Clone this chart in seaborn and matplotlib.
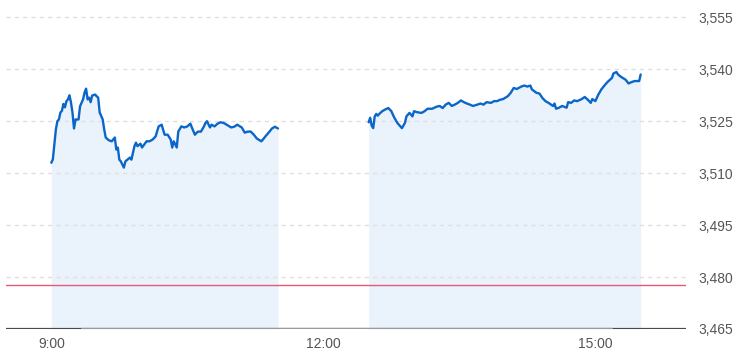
import matplotlib
matplotlib.use("Agg")
import matplotlib.pyplot as plt
import seaborn as sns
import pandas as pd

# Minutes after 9:00 and index values
am_minutes = [0, 1, 3, 4, 5, 6, 7, 8, 9, 10, 11, 12, 13, 14, 15, 16, 18, 19, 21, 22, 23, 24, 25, 26, 27,
              29, 30, 31, 32, 34, 35, 36, 38, 40, 42, 43, 44, 45, 46, 48, 49, 52, 53, 55, 56, 57, 59, 60,
              63, 65, 67, 69, 71, 73, 74, 75, 77, 79, 80, 81, 83, 84, 86, 88, 90, 92, 93, 95, 97, 99, 101,
              102, 103, 105, 106, 108, 110, 112, 114, 116, 119, 121, 123, 126, 128, 130, 132, 134, 136,
              139, 140, 142, 144, 146, 148, 150]
am_values = [3513.0, 3514.0, 3522.6, 3525.0, 3525.5, 3527.5, 3528.0, 3530.0, 3529.0, 3530.8, 3531.3,
             3532.5, 3530.4, 3527.5, 3522.9, 3525.5, 3525.5, 3529.3, 3531.3, 3533.3, 3534.4, 3531.3,
             3531.8, 3530.5, 3532.4, 3532.7, 3532.2, 3531.8, 3527.5, 3525.5, 3522.6, 3520.3, 3519.5,
             3519.2, 3520.3, 3516.8, 3517.4, 3513.9, 3513.4, 3511.6, 3513.4, 3514.5, 3513.9, 3517.8,
             3518.8, 3517.8, 3518.5, 3517.4, 3519.2, 3519.2, 3519.7, 3520.6, 3523.5, 3524.0, 3522.5,
             3521.1, 3521.1, 3519.7, 3517.4, 3519.2, 3517.4, 3522.0, 3523.5, 3523.2, 3523.5, 3524.3,
             3523.2, 3521.1, 3522.0, 3522.0, 3523.5, 3524.5, 3525.0, 3523.2, 3524.0, 3523.5, 3524.3,
             3524.7, 3524.5, 3524.0, 3523.2, 3523.4, 3524.0, 3523.2, 3521.7, 3522.0, 3522.0, 3521.1,
             3520.0, 3519.2, 3519.7, 3520.8, 3521.8, 3522.9, 3523.4, 3522.9]

pm_minutes = [210, 211, 212, 213, 214, 215, 216, 217, 219, 221, 223, 225, 227, 229, 231, 232, 234, 235,
              237, 239, 240, 242, 245, 247, 249, 252, 255, 257, 259, 261, 263, 265, 267, 269, 271, 273,
              275, 277, 279, 282, 284, 286, 288, 291, 293, 295, 297, 299, 302, 304, 306, 308, 311, 313,
              315, 317, 318, 321, 323, 325, 327, 329, 332, 333, 334, 336, 338, 341, 342, 344, 346, 348,
              351, 353, 355, 357, 358, 360, 362, 364, 366, 368, 371, 372, 374, 375, 377, 380, 382, 384,
              386, 389, 390]
pm_values = [3524.7, 3526.0, 3523.7, 3523.0, 3526.4, 3527.1, 3526.6, 3527.1, 3527.9, 3528.4, 3528.8,
             3527.9, 3526.0, 3524.5, 3523.5, 3523.0, 3524.5, 3526.4, 3527.4, 3526.4, 3527.9, 3527.6,
             3527.4, 3527.9, 3528.6, 3528.6, 3529.2, 3529.4, 3528.8, 3529.8, 3530.3, 3529.4, 3529.8,
             3530.3, 3531.0, 3530.5, 3530.1, 3529.8, 3529.4, 3529.8, 3530.1, 3529.8, 3530.5, 3530.3,
             3530.8, 3530.8, 3531.2, 3531.4, 3532.2, 3533.2, 3534.6, 3534.3, 3535.0, 3535.3, 3535.0,
             3535.3, 3534.2, 3533.2, 3533.0, 3531.7, 3530.8, 3530.3, 3529.4, 3530.1, 3528.6, 3528.9,
             3529.4, 3528.9, 3530.5, 3530.3, 3531.0, 3530.8, 3531.4, 3532.0, 3531.2, 3530.3, 3531.4,
             3530.8, 3532.7, 3534.2, 3535.3, 3536.3, 3537.5, 3538.8, 3539.2, 3538.5, 3537.8, 3537.0,
             3535.9, 3536.3, 3536.6, 3536.6, 3538.5]

prev_close = 3477.7
y_ticks = [3465, 3480, 3495, 3510, 3525, 3540, 3555]
x_ticks = [9, 12, 15]
x_labels = ["9:00", "12:00", "15:00"]

df = pd.concat([
    pd.DataFrame({"hour": [9 + m / 60 for m in am_minutes], "value": am_values, "session": "am"}),
    pd.DataFrame({"hour": [9 + m / 60 for m in pm_minutes], "value": pm_values, "session": "pm"}),
])

sns.set_theme(style="white")
plt.rcParams['font.family'] = ['Liberation Sans', 'DejaVu Sans']

fig = plt.figure(figsize=(7.41, 3.56), dpi=100)
ax = fig.add_axes([6 / 741, 1 - 329 / 356, 680 / 741, 329 / 356])

ymin, ymax = 3465, 3560
line_color = "#0a66c8"
fill_color = "#eaf2fb"

for s, g in df.groupby("session"):
    ax.fill_between(g["hour"], g["value"], ymin, color=fill_color, linewidth=0, zorder=1)
    sns.lineplot(data=g, x="hour", y="value", ax=ax, color=line_color, linewidth=1.7,
                 estimator=None, sort=False, zorder=3)

for yt in y_ticks[1:]:
    ax.axhline(yt, color="#e0e0e0", linewidth=1, linestyle=(0, (3, 3)), zorder=2)

ax.axhline(prev_close, color="#e4587a", linewidth=1, zorder=2)
ax.axhline(ymin, color="#4a4a4a", linewidth=1.6, zorder=4)
ax.axhline(ymin, xmin=(82 - 6) / 680, xmax=(612 - 6) / 680, color="#9a9a9a", linewidth=1.6, zorder=5)

ax.set_xlim(8.5, 16.0)
ax.set_ylim(ymin, ymax)
ax.set_xticks(x_ticks)
ax.set_xticklabels(x_labels)
ax.set_yticks(y_ticks)
ax.set_yticklabels([f"{v:,}" for v in y_ticks])
ax.yaxis.tick_right()
ax.tick_params(axis="both", length=0, labelsize=10, labelcolor="#555555")
ax.tick_params(axis="y", pad=9)
ax.tick_params(axis="x", pad=6)
ax.set_xlabel("")
ax.set_ylabel("")
for sp in ax.spines.values():
    sp.set_visible(False)
ax.set_facecolor("none")
ax.grid(False)

fig.savefig("out.png", dpi=100)
